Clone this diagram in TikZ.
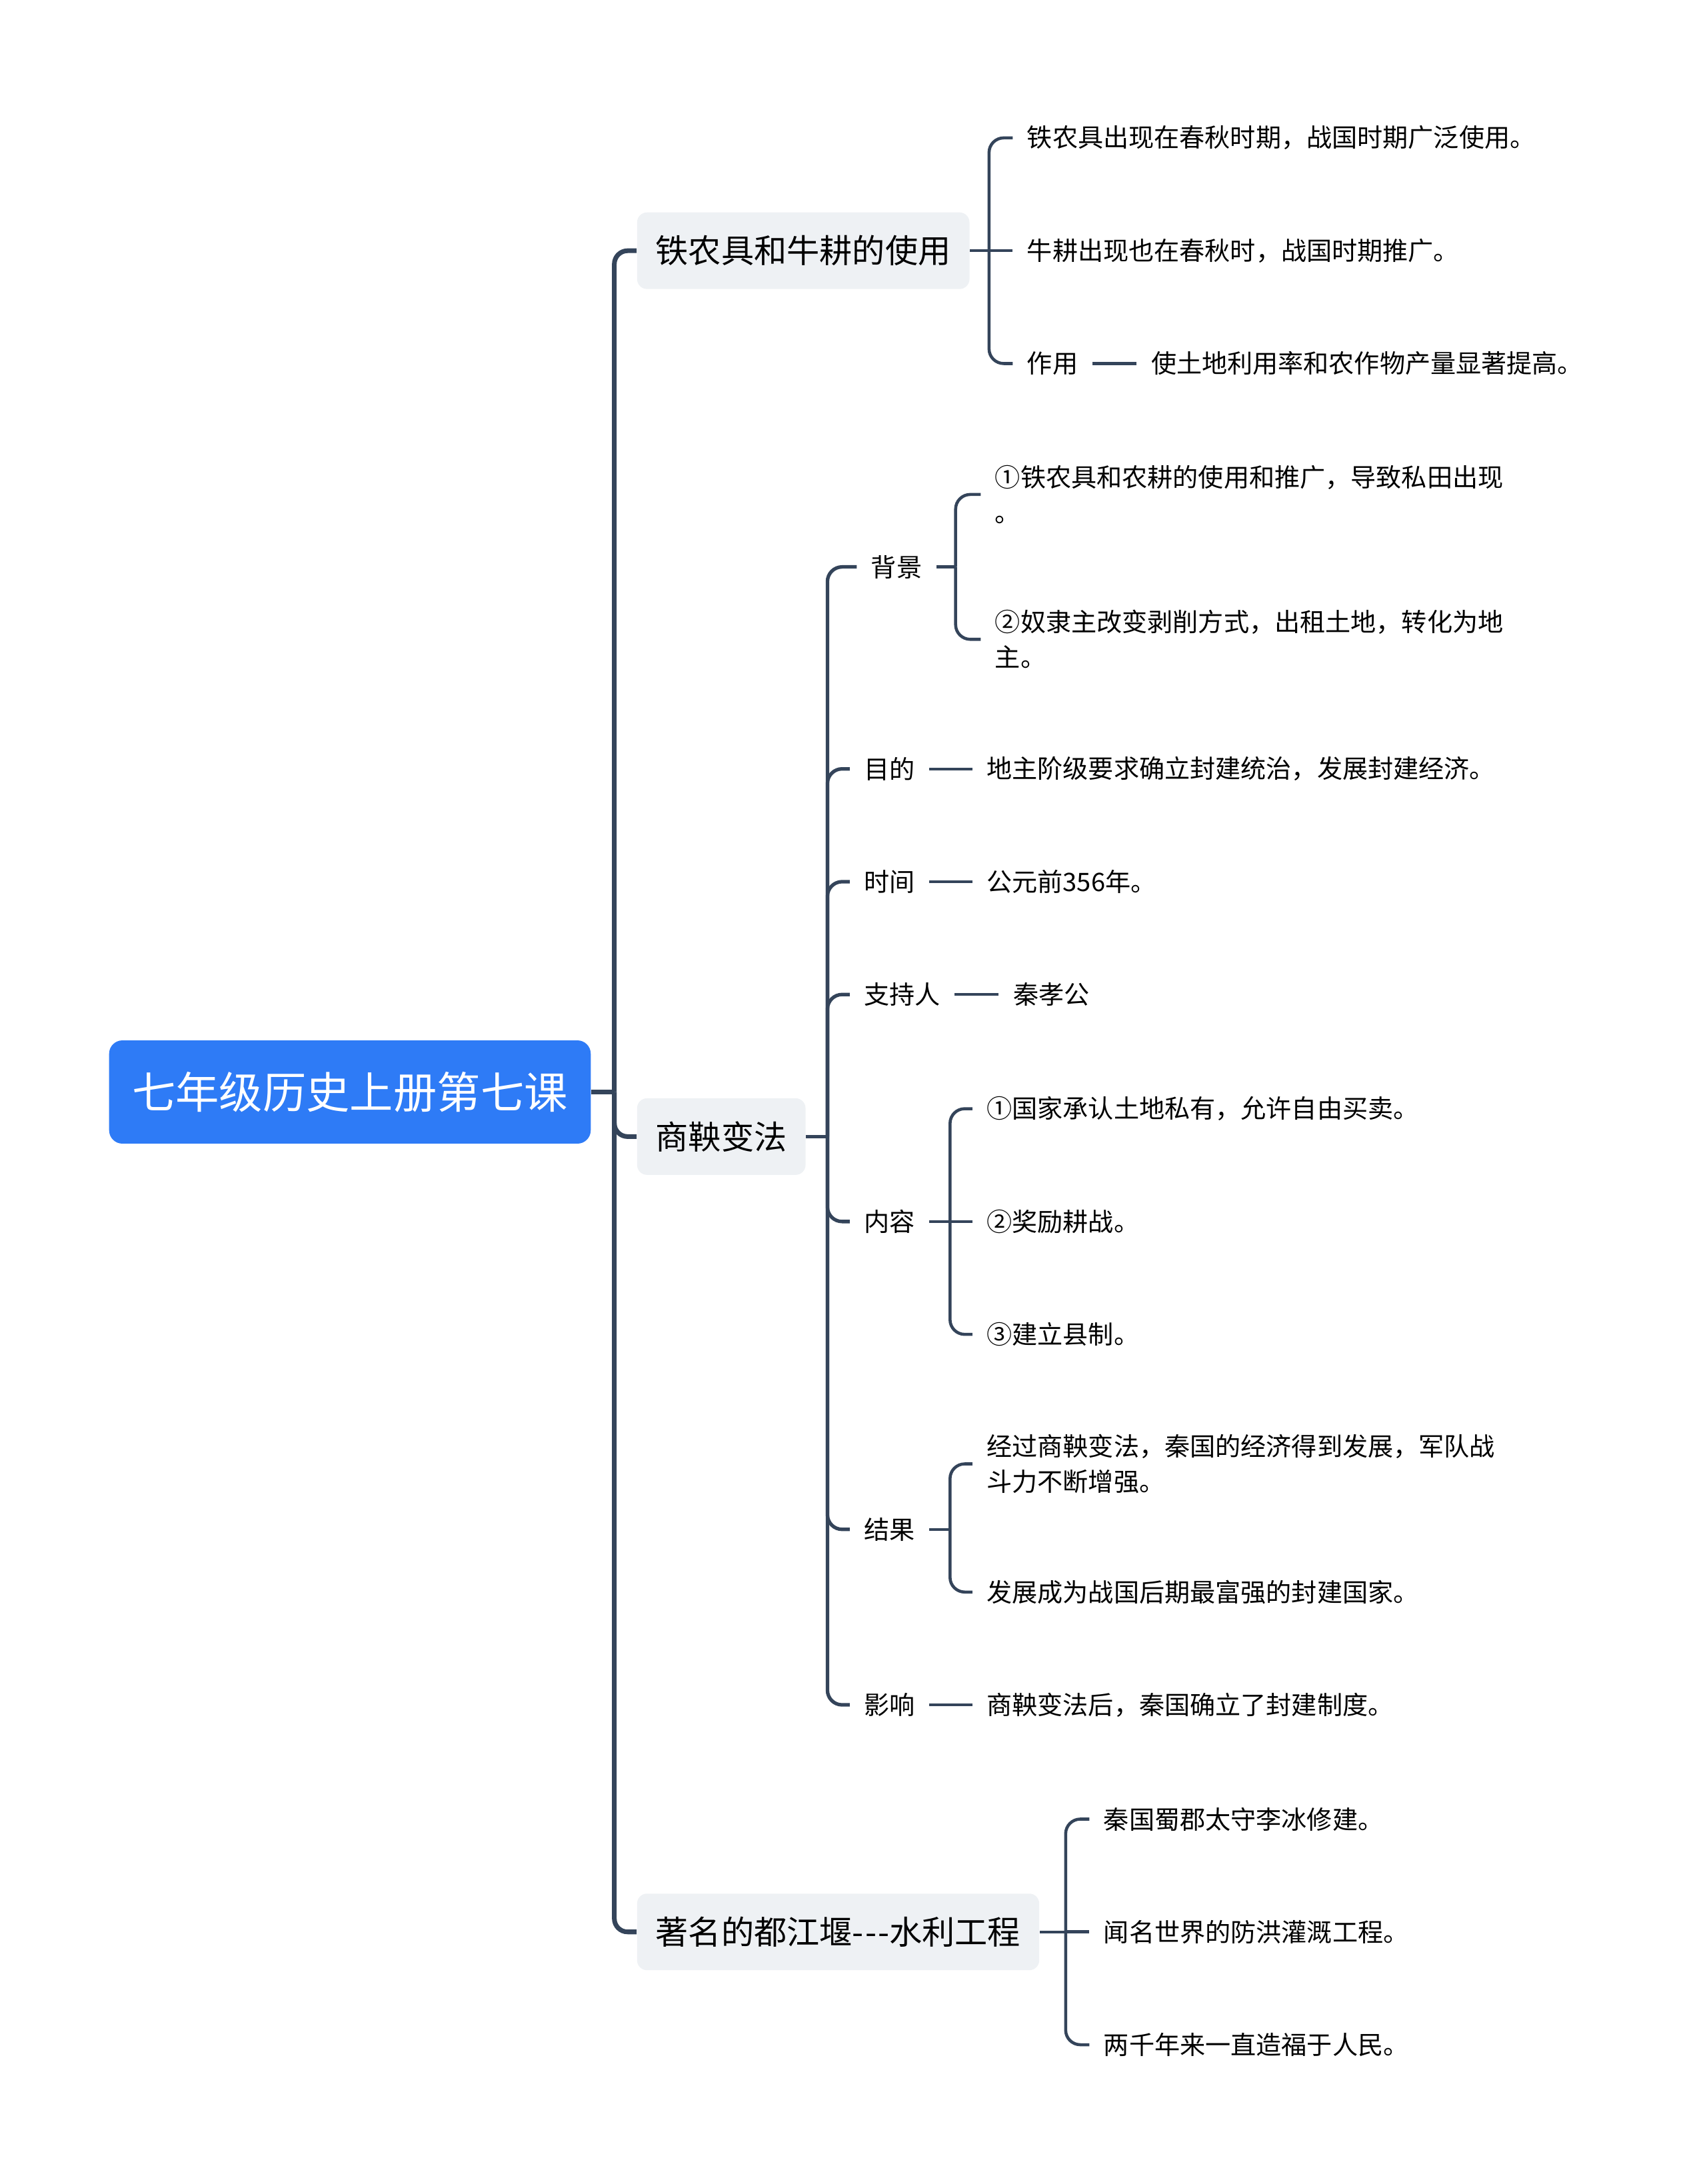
\documentclass[tikz,border=0pt]{standalone}
\usepackage{fontspec}
\setmainfont{Noto Sans CJK SC}[Ligatures=TeXOff]
\definecolor{rootblue}{HTML}{2E7BF6}
\definecolor{topicgrey}{HTML}{EEF1F4}
\definecolor{linkcol}{HTML}{34445A}
\begin{document}
\begin{tikzpicture}[x=0.020898cm, y=-0.020898cm,
  root/.style={fill=rootblue, rounded corners=0.2cm, text=white, font=\fontsize{18.6}{22}\selectfont, inner xsep=0.345cm, minimum height=1.55cm, anchor=west},
  topic/.style={fill=topicgrey, rounded corners=0.15cm, font=\fontsize{14}{17}\selectfont, inner xsep=0.28cm, minimum height=1.15cm, anchor=west},
  leaf/.style={font=\fontsize{10.85}{15}\selectfont, inner xsep=0.209cm, inner ysep=2pt, anchor=west, align=left},
  trunk/.style={draw=linkcol, line width=2pt, rounded corners=0.2cm},
  brn/.style={draw=linkcol, line width=1.3pt, rounded corners=0.22cm},
  lnk/.style={draw=linkcol, line width=1.2pt}]
  \useasboundingbox (0,0) rectangle (1225,1568);
  % central topic and main branches
  \node[root] (root) at (78,784) {七年级历史上册第七课};
  \node[topic] (iron) at (457,180) {铁农具和牛耕的使用};
  \node[topic] (reform) at (457,816) {商鞅变法};
  \node[topic] (dam) at (457,1387) {著名的都江堰-\kern0.6pt-\kern0.6pt-水利工程};
  % iron tools
  \node[leaf] (iron1) at (727,99) {铁农具出现在春秋时期，战国时期广泛使用。};
  \node[leaf] (iron2) at (727,180) {牛耕出现也在春秋时，战国时期推广。};
  \node[leaf] (iron3) at (727,261) {作用};
  \node[leaf] (iron3a) at (816,261) {使土地利用率和农作物产量显著提高。};
  % reform
  \node[leaf] (bg) at (615,407) {背景};
  \node[leaf] (bg1) at (704,355) {①铁农具和农耕的使用和推广，导致私田出现\\。};
  \node[leaf] (bg2) at (704,459) {②奴隶主改变剥削方式，出租土地，转化为地\\主。};
  \node[leaf] (aim) at (610,552) {目的};
  \node[leaf] (aim1) at (698,552) {地主阶级要求确立封建统治，发展封建经济。};
  \node[leaf] (time) at (610,633) {时间};
  \node[leaf] (time1) at (698,633) {公元前356年。};
  \node[leaf] (sup) at (610,714) {支持人};
  \node[leaf] (sup1) at (717,714) {秦孝公};
  \node[leaf] (cont) at (610,877) {内容};
  \node[leaf] (cont1) at (698,796) {①国家承认土地私有，允许自由买卖。};
  \node[leaf] (cont2) at (698,877) {②奖励耕战。};
  \node[leaf] (cont3) at (698,958) {③建立县制。};
  \node[leaf] (res) at (610,1098) {结果};
  \node[leaf] (res1) at (698,1051) {经过商鞅变法，秦国的经济得到发展，军队战\\斗力不断增强。};
  \node[leaf] (res2) at (698,1143) {发展成为战国后期最富强的封建国家。};
  \node[leaf] (eff) at (610,1224) {影响};
  \node[leaf] (eff1) at (698,1224) {商鞅变法后，秦国确立了封建制度。};
  % dujiangyan
  \node[leaf] (dam1) at (782,1306) {秦国蜀郡太守李冰修建。};
  \node[leaf] (dam2) at (782,1387) {闻名世界的防洪灌溉工程。};
  \node[leaf] (dam3) at (782,1468) {两千年来一直造福于人民。};

  \coordinate (jroot) at (441,784);
  \coordinate (jiron) at (710,180);
  \coordinate (jref) at (594,816);
  \coordinate (jbg) at (686,407);
  \coordinate (jcont) at (682,877);
  \coordinate (jres) at (682,1098);
  \coordinate (jdam) at (765,1387);

  \draw[trunk] (root.east) -- (jroot);
  \draw[trunk] (jroot) |- (iron.west);
  \draw[trunk] (jroot) |- (reform.west);
  \draw[trunk] (jroot) |- (dam.west);

  \draw[lnk] (iron.east) -- (jiron);
  \draw[brn] (jiron) |- (iron1.west);
  \draw[brn] (jiron) -- (iron2.west);
  \draw[brn] (jiron) |- (iron3.west);
  \draw[lnk] (iron3.east) -- (iron3a.west);

  \draw[lnk] (reform.east) -- (jref);
  \draw[brn, line width=1.5pt] (jref) |- (bg.west);
  \draw[brn, line width=1.5pt] (jref) |- (aim.west);
  \draw[brn, line width=1.5pt] (jref) |- (time.west);
  \draw[brn, line width=1.5pt] (jref) |- (sup.west);
  \draw[brn, line width=1.5pt] (jref) |- (cont.west);
  \draw[brn, line width=1.5pt] (jref) |- (res.west);
  \draw[brn, line width=1.5pt] (jref) |- (eff.west);

  \draw[lnk] (bg.east) -- (jbg);
  \draw[brn] (jbg) |- (bg1.west);
  \draw[brn] (jbg) |- (bg2.west);
  \draw[lnk] (aim.east) -- (aim1.west);
  \draw[lnk] (time.east) -- (time1.west);
  \draw[lnk] (sup.east) -- (sup1.west);
  \draw[lnk] (cont.east) -- (jcont);
  \draw[brn] (jcont) |- (cont1.west);
  \draw[brn] (jcont) -- (cont2.west);
  \draw[brn] (jcont) |- (cont3.west);
  \draw[lnk] (res.east) -- (jres);
  \draw[brn] (jres) |- (res1.west);
  \draw[brn] (jres) |- (res2.west);
  \draw[lnk] (eff.east) -- (eff1.west);

  \draw[lnk] (dam.east) -- (jdam);
  \draw[brn] (jdam) |- (dam1.west);
  \draw[brn] (jdam) -- (dam2.west);
  \draw[brn] (jdam) |- (dam3.west);
\end{tikzpicture}
\end{document}
